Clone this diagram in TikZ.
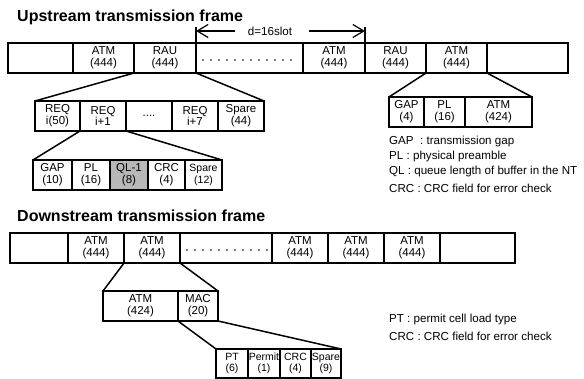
\documentclass[tikz,border=0pt]{standalone}
\usepackage{fontspec}
\setmainfont{Liberation Sans}
\usetikzlibrary{positioning,arrows.meta}

\begin{document}
\begin{tikzpicture}[
    x=1pt, y=-1pt,
    field/.style={draw, line width=1.3pt, minimum width=#1, minimum height=30pt, inner sep=0pt, outer sep=0pt,
        align=center, font=\fontsize{11.5}{11.8}\selectfont},
    small/.style={font=\fontsize{10.5}{11.5}\selectfont},
    fan/.style={line width=1.5pt},
    dotrow/.style={line width=1.6pt, line cap=round, dash pattern=on 0pt off 8pt},
    dimarrow/.style={line width=1.2pt, -{Straight Barb[length=11pt, width=13pt, line width=1.2pt]}},
    title/.style={anchor=west, inner sep=0pt, font=\fontsize{16}{18}\selectfont\bfseries},
    legend/.style={anchor=west, inner sep=0pt, font=\fontsize{11.6}{13}\selectfont}
]
    \useasboundingbox (0,0) rectangle (584,379);

    % --- UPSTREAM FRAME ---
    \node[title] (uptitle) at (17,17) {Upstream transmission frame};
    \node[field=65pt, anchor=north west] (u1) at (8,43) {};
    \node[field=61pt, right=0pt of u1] (u2) {ATM\\(444)};
    \node[field=62pt, right=0pt of u2] (u3) {RAU\\(444)};
    \node[field=107pt, right=0pt of u3] (u4) {};
    \node[field=62pt, right=0pt of u4] (u5) {ATM\\(444)};
    \node[field=61pt, right=0pt of u5] (u6) {RAU\\(444)};
    \node[field=61pt, right=0pt of u6] (u7) {ATM\\(444)};
    \node[field=81pt, right=0pt of u7] (u8) {};
    \draw[dotrow] ([xshift=7pt, yshift=-2pt]u4.west) -- ([xshift=-5pt, yshift=-2pt]u4.east);

    % slot distance d
    \node[font=\fontsize{11.6}{13}\selectfont] (dlabel) at (270,31) {d=16slot};
    \coordinate (dleft) at ([yshift=16pt]u3.north east);
    \coordinate (dright) at ([yshift=16pt]u5.north east);
    \draw[line width=1.2pt] (u3.north east) -- (dleft);
    \draw[line width=1.2pt] (u5.north east) -- (dright);
    \draw[dimarrow] ([xshift=-9pt]dlabel.west) -- (dleft |- dlabel);
    \draw[dimarrow] ([xshift=13pt]dlabel.east) -- (dright |- dlabel);

    % RAU slot expanded
    \node[field=45pt, anchor=north west] (r1) at (35,101) {REQ\\i(50)};
    \node[field=46pt, right=0pt of r1] (r2) {REQ\\i+1};
    \node[field=46pt, right=0pt of r2] (r3) {....};
    \node[field=46pt, right=0pt of r3] (r4) {REQ\\i+7};
    \node[field=46pt, right=0pt of r4] (r5) {Spare\\(44)};
    \draw[fan] (u3.south west) -- (r1.north west);
    \draw[fan] (u3.south east) -- (r5.north east);

    % REQ cell expanded
    \node[field=39pt, anchor=north west] (q1) at (33,160) {GAP\\(10)};
    \node[field=38pt, right=0pt of q1] (q2) {PL\\(16)};
    \node[field=38pt, right=0pt of q2, fill=black!28] (q3) {QL-1\\(8)};
    \node[field=37pt, right=0pt of q3] (q4) {CRC\\(4)};
    \node[field=37pt, right=0pt of q4, small] (q5) {Spare\\(12)};
    \draw[fan] (r2.south west) -- (q1.north west);
    \draw[fan] (r2.south east) -- (q5.north east);

    % ATM slot expanded
    \node[field=35pt, anchor=north west] (g1) at (389,97) {GAP\\(4)};
    \node[field=41pt, right=0pt of g1] (g2) {PL\\(16)};
    \node[field=67pt, right=0pt of g2] (g3) {ATM\\(424)};
    \draw[fan] (u7.south west) -- (g1.north west);
    \draw[fan] (u7.south east) -- (g3.north east);

    \node[legend] (lgap) at (389,142) {GAP\ \ : transmission gap};
    \node[legend] (lpl) at (389,157) {PL : physical preamble};
    \node[legend] (lql) at (389,172) {QL : queue length of buffer in the NT};
    \node[legend] (lcrc) at (389,188) {CRC : CRC field for error check};

    % --- DOWNSTREAM FRAME ---
    \node[title] (downtitle) at (17,216) {Downstream transmission frame};
    \node[field=58pt, anchor=north west] (d1) at (10,233) {};
    \node[field=56pt, right=0pt of d1] (d2) {ATM\\(444)};
    \node[field=56pt, right=0pt of d2] (d3) {ATM\\(444)};
    \node[field=92pt, right=0pt of d3] (d4) {};
    \node[field=56pt, right=0pt of d4] (d5) {ATM\\(444)};
    \node[field=56pt, right=0pt of d5] (d6) {ATM\\(444)};
    \node[field=56pt, right=0pt of d6] (d7) {ATM\\(444)};
    \node[field=75pt, right=0pt of d7] (d8) {};
    \draw[dotrow] ([xshift=7pt, yshift=-2pt]d4.west) -- ([xshift=-5pt, yshift=-2pt]d4.east);

    % ATM cell with MAC
    \node[field=75pt, anchor=north west] (m1) at (103,291) {ATM\\(424)};
    \node[field=40pt, right=0pt of m1] (m2) {MAC\\(20)};
    \draw[fan] (d3.south west) -- (m1.north west);
    \draw[fan] (d3.south east) -- (m2.north east);

    % MAC field expanded
    \node[field=32pt, anchor=north west, minimum height=29pt, small] (p1) at (216,349) {PT\\(6)};
    \node[field=32pt, right=0pt of p1, minimum height=29pt, small] (p2) {Permit\\(1)};
    \node[field=31pt, right=0pt of p2, minimum height=29pt, small] (p3) {CRC\\(4)};
    \node[field=30pt, right=0pt of p3, minimum height=29pt, small] (p4) {Spare\\(9)};
    \draw[fan] (m2.south west) -- (p1.north west);
    \draw[fan] (m2.south east) -- (p4.north east);

    \node[legend] (lpt) at (389,320) {PT : permit cell load type};
    \node[legend] (lcrc2) at (389,336) {CRC : CRC field for error check};
\end{tikzpicture}
\end{document}
